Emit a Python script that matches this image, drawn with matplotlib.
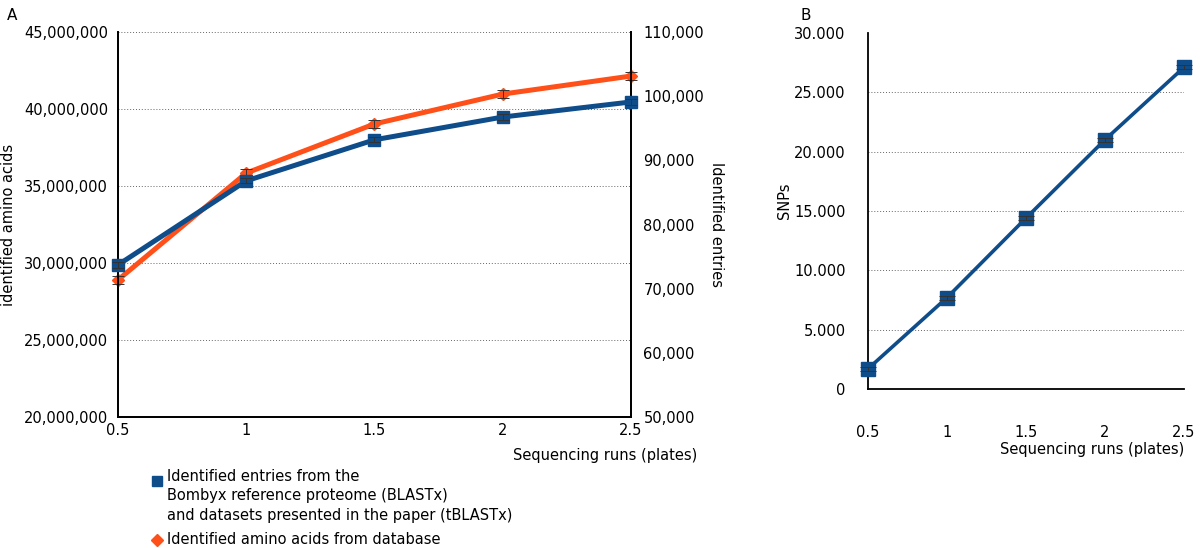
import matplotlib
matplotlib.use("Agg")
import matplotlib.pyplot as plt
from matplotlib.lines import Line2D
from matplotlib.ticker import FuncFormatter

plt.rcParams["font.family"] = ["DejaVu Sans"]
plt.rcParams["font.size"] = 10

BLUE = "#0f4c8a"
ORANGE = "#ff5019"

# panel A
runs = [0.5, 1, 1.5, 2, 2.5]
entries = [73700, 86800, 93200, 96750, 99100]          # right axis
entries_err = [400, 400, 400, 400, 400]
amino_acids = [28.9e6, 35.84e6, 39.03e6, 40.97e6, 42.14e6]  # left axis
amino_err = [250000, 250000, 250000, 250000, 250000]

# panel B
snps = [1700, 7700, 14400, 21000, 27100]
snps_err = [170, 170, 170, 170, 170]

fig = plt.figure(figsize=(12, 5.48), dpi=100)

# ---- A ----
axA = fig.add_axes([0.0983, 0.239, 0.4275, 0.7026])
axA2 = axA.twinx()

axA.set_xlim(0.5, 2.5)
axA.set_ylim(20e6, 45e6)
axA2.set_ylim(50000, 110000)
axA.set_yticks([20e6, 25e6, 30e6, 35e6, 40e6, 45e6])
axA2.set_yticks([50000, 60000, 70000, 80000, 90000, 100000, 110000])
axA.set_xticks(runs)
axA.set_xticklabels(["0.5", "1", "1.5", "2", "2.5"])
axA.yaxis.set_major_formatter(FuncFormatter(lambda v, p: f"{int(v):,}"))
axA2.yaxis.set_major_formatter(FuncFormatter(lambda v, p: f"{int(v):,}"))

for v in [25e6, 30e6, 35e6, 40e6, 45e6]:
    axA.axhline(v, color="#666666", lw=0.7, ls=(0, (1, 2)), zorder=0)

axA.plot(runs, amino_acids, color=ORANGE, lw=3.6, marker="D", ms=6, zorder=3,
         clip_on=False)
axA.errorbar(runs, amino_acids, yerr=amino_err, fmt="none", ecolor="#333333",
             elinewidth=0.7, capsize=4, capthick=0.7, zorder=4, clip_on=False)
axA2.plot(runs, entries, color=BLUE, lw=3.6, marker="s", ms=8, zorder=3,
          clip_on=False)
axA2.errorbar(runs, entries, yerr=entries_err, fmt="none", ecolor="#333333",
              elinewidth=0.7, capsize=4, capthick=0.7, zorder=4, clip_on=False)

for ax in (axA, axA2):
    ax.spines["top"].set_visible(False)
    ax.spines["left"].set_linewidth(1.3)
    ax.spines["right"].set_linewidth(1.3)
    ax.spines["bottom"].set_linewidth(1.3)
    ax.tick_params(length=0, labelsize=10.5)
axA.tick_params(axis="y", pad=7)
axA.tick_params(axis="x", pad=4)
axA2.tick_params(axis="y", pad=9)

axA.set_ylabel("identified amino acids", fontsize=10.5)
axA.yaxis.set_label_coords(-0.198, 0.5)
axA2.set_ylabel("Identified entries", fontsize=10.5, rotation=270)
axA2.yaxis.set_label_coords(1.182, 0.5)
axA.set_xlabel("Sequencing runs (plates)", fontsize=10.5, ha="right")
axA.xaxis.set_label_coords(1.13, -0.08)
fig.text(0.006, 0.985, "A", fontsize=11, va="top")

# legend under panel A
fig.add_artist(Line2D([157 / 1200], [1 - 481 / 548], marker="s", ms=7,
                      color=BLUE, transform=fig.transFigure))
fig.text(167 / 1200, 1 - 469 / 548,
         "Identified entries from the\nBombyx reference proteome (BLASTx)\n"
         "and datasets presented in the paper (tBLASTx)",
         fontsize=10.5, va="top", linespacing=1.36)
fig.add_artist(Line2D([157 / 1200], [1 - 540 / 548], marker="D", ms=6,
                      color=ORANGE, transform=fig.transFigure))
fig.text(167 / 1200, 1 - 540 / 548, "Identified amino acids from database",
         fontsize=10.5, va="center")

# ---- B ----
axB = fig.add_axes([0.7233, 0.2901, 0.2633, 0.6497])
axB.set_xlim(0.5, 2.5)
axB.set_ylim(0, 30000)
axB.set_yticks([0, 5000, 10000, 15000, 20000, 25000, 30000])
axB.yaxis.set_major_formatter(
    FuncFormatter(lambda v, p: f"{int(v):,}".replace(",", ".")))
axB.set_xticks(runs)
axB.set_xticklabels(["0.5", "1", "1.5", "2", "2.5"])
for v in [5000, 10000, 15000, 20000, 25000]:
    axB.axhline(v, color="#666666", lw=0.7, ls=(0, (1, 2)), zorder=0)
axB.plot(runs, snps, color=BLUE, lw=2.6, marker="s", ms=10, zorder=3,
         clip_on=False)
axB.errorbar(runs, snps, yerr=snps_err, fmt="none", ecolor="#333333",
             elinewidth=0.7, capsize=6, capthick=0.7, zorder=4, clip_on=False)
axB.spines["top"].set_visible(False)
axB.spines["right"].set_visible(False)
axB.spines["left"].set_linewidth(1.3)
axB.spines["bottom"].set_linewidth(1.3)
axB.tick_params(length=0, labelsize=10.5)
axB.tick_params(axis="y", pad=16)
axB.tick_params(axis="x", pad=26)
axB.set_ylabel("SNPs", fontsize=10.5)
axB.yaxis.set_label_coords(-0.24, 0.53)
axB.set_xlabel("Sequencing runs (plates)", fontsize=10.5, ha="right")
axB.xaxis.set_label_coords(1.0, -0.15)
fig.text(0.667, 0.985, "B", fontsize=11, va="top")

fig.savefig("out.png", dpi=100)
